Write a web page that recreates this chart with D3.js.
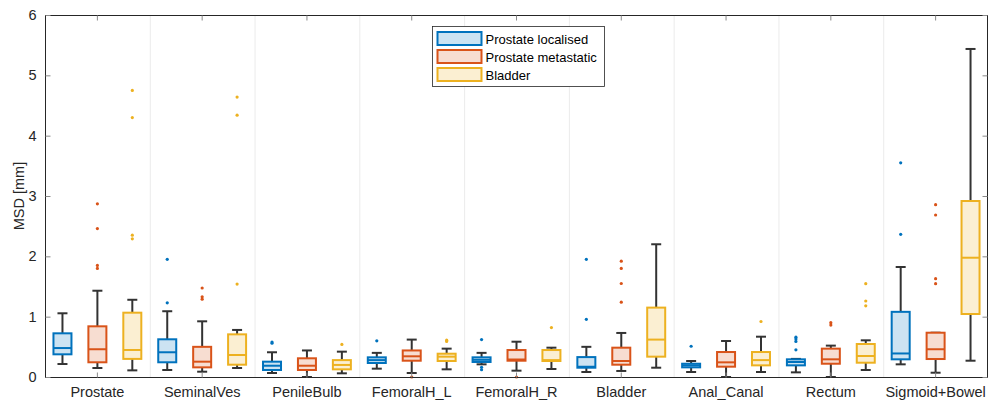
<!DOCTYPE html>
<html>
<head>
<meta charset="utf-8">
<script src="https://cdn.jsdelivr.net/npm/d3@7"></script>
<style>
  html, body { margin: 0; padding: 0; background: #fff; }
  svg { display: block; font-family: "Liberation Sans", Arial, Helvetica, sans-serif; }
</style>
</head>
<body>
<svg id="chart" width="988" height="401"></svg>
<script>
// Organs on the x axis
const categories = ["Prostate", "SeminalVes", "PenileBulb", "FemoralH_L", "FemoralH_R",
                    "Bladder", "Anal_Canal", "Rectum", "Sigmoid+Bowel"];
const seriesNames = ["Prostate localised", "Prostate metastatic", "Bladder"];
const yTicks = [0, 1, 2, 3, 4, 5, 6];

// Box statistics per organ: [lower whisker, Q1, median, Q3, upper whisker]
const localisedStats = [
  [0.215, 0.376, 0.48, 0.724, 1.056],
  [0.116, 0.244, 0.41, 0.625, 1.09],
  [0.066, 0.116, 0.187, 0.254, 0.41],
  [0.138, 0.232, 0.28, 0.326, 0.40],
  [0.21, 0.249, 0.285, 0.326, 0.40],
  [0.083, 0.154, 0.17, 0.33, 0.50],
  [0.083, 0.16, 0.193, 0.22, 0.265],
  [0.077, 0.193, 0.249, 0.293, 0.30],
  [0.21, 0.293, 0.39, 1.08, 1.823]
];
const metastaticStats = [
  [0.149, 0.244, 0.46, 0.84, 1.43],
  [0.088, 0.16, 0.254, 0.50, 0.923],
  [0.0, 0.116, 0.187, 0.31, 0.44],
  [0.066, 0.27, 0.343, 0.44, 0.62],
  [0.105, 0.27, 0.29, 0.447, 0.585],
  [0.10, 0.204, 0.265, 0.486, 0.73],
  [0.0, 0.171, 0.243, 0.414, 0.597],
  [0.0, 0.22, 0.293, 0.47, 0.52],
  [0.071, 0.298, 0.46, 0.734, 0.734]
];
const bladderStats = [
  [0.11, 0.30, 0.448, 1.066, 1.28],
  [0.149, 0.204, 0.365, 0.707, 0.78],
  [0.061, 0.127, 0.20, 0.28, 0.42],
  [0.127, 0.265, 0.337, 0.386, 0.47],
  [0.133, 0.265, 0.28, 0.447, 0.486],
  [0.154, 0.337, 0.62, 1.15, 2.20],
  [0.083, 0.193, 0.28, 0.414, 0.668],
  [0.116, 0.237, 0.348, 0.547, 0.608],
  [0.27, 1.044, 1.977, 2.917, 5.437]
];

// Outliers per organ
const localisedOutliers = [
  [], [1.95, 1.23], [0.58, 0.56], [0.60], [0.62, 0.16, 0.12],
  [1.95, 0.956], [0.51], [0.66, 0.63, 0.59, 0.45], [3.55, 2.365]
];
const metastaticOutliers = [
  [2.87, 2.46, 1.85, 1.80], [1.475, 1.33, 1.29], [], [0.0], [0.0],
  [1.92, 1.80, 1.55, 1.24], [], [0.90, 0.86], [2.856, 2.685, 1.63, 1.547]
];
const bladderOutliers = [
  [4.75, 4.30, 2.35, 2.29], [4.64, 4.34, 1.54], [0.54], [0.61, 0.59], [0.82],
  [], [0.92], [1.547, 1.26, 1.18], []
];

const strokeColors = ["#0072BD", "#D95319", "#EDB120"];
const fillColors = ["#cce3f2", "#f7ddd1", "#fbefd2"];

const statsBySeries = [localisedStats, metastaticStats, bladderStats];
const outliersBySeries = [localisedOutliers, metastaticOutliers, bladderOutliers];

const svg = d3.select("#chart");
const plotLeft = 45, plotRight = 988, plotTop = 15, plotBottom = 377;
const axisColor = "#262626";
const fontFamily = "'Liberation Sans', Arial, sans-serif";

const x = d3.scaleBand().domain(categories).range([plotLeft, plotRight]).padding(0);
const xs = d3.scaleBand().domain(seriesNames).range([0, x.bandwidth()]).padding(0);
const y = d3.scaleLinear().domain([0, 6]).range([plotBottom, plotTop]);

// Vertical separators between organ groups
svg.append("g").selectAll("line")
  .data(categories.slice(1))
  .join("line")
  .attr("x1", d => x(d) + 0.5).attr("x2", d => x(d) + 0.5)
  .attr("y1", plotTop).attr("y2", plotBottom)
  .attr("stroke", "#ebebeb").attr("stroke-width", 1);

// Boxes
const boxW = 18, capW = 10;
const gBoxes = svg.append("g");
seriesNames.forEach((s, si) => {
  const stats = statsBySeries[si];
  const outs = outliersBySeries[si];
  categories.forEach((c, ci) => {
    const [lo, q1, med, q3, hi] = stats[ci];
    const cx = x(c) + xs(s) + xs.bandwidth() / 2;
    const g = gBoxes.append("g");
    // whiskers
    g.append("line").attr("x1", cx).attr("x2", cx).attr("y1", y(q3)).attr("y2", y(hi))
      .attr("stroke", "#333").attr("stroke-width", 2);
    g.append("line").attr("x1", cx).attr("x2", cx).attr("y1", y(q1)).attr("y2", y(lo))
      .attr("stroke", "#333").attr("stroke-width", 2);
    g.append("line").attr("x1", cx - capW / 2).attr("x2", cx + capW / 2)
      .attr("y1", y(hi)).attr("y2", y(hi)).attr("stroke", "#333").attr("stroke-width", 2);
    g.append("line").attr("x1", cx - capW / 2).attr("x2", cx + capW / 2)
      .attr("y1", y(lo)).attr("y2", y(lo)).attr("stroke", "#333").attr("stroke-width", 2);
    // box
    g.append("rect")
      .attr("x", cx - boxW / 2).attr("width", boxW)
      .attr("y", y(q3)).attr("height", Math.max(0.5, y(q1) - y(q3)))
      .attr("fill", fillColors[si]).attr("stroke", strokeColors[si]).attr("stroke-width", 2);
    // median
    g.append("line").attr("x1", cx - boxW / 2).attr("x2", cx + boxW / 2)
      .attr("y1", y(med)).attr("y2", y(med))
      .attr("stroke", strokeColors[si]).attr("stroke-width", 2);
    // outliers
    g.selectAll("circle").data(outs[ci]).join("circle")
      .attr("cx", cx).attr("cy", d => y(d)).attr("r", 1.6)
      .attr("fill", strokeColors[si]);
  });
});

// Axes frame
const frame = svg.append("g").attr("stroke", axisColor).attr("stroke-width", 1).attr("fill", "none");
frame.append("line").attr("x1", plotLeft).attr("x2", plotRight).attr("y1", plotBottom + 0.5).attr("y2", plotBottom + 0.5);
frame.append("line").attr("x1", plotLeft).attr("x2", plotRight).attr("y1", plotTop + 0.5).attr("y2", plotTop + 0.5);
frame.append("line").attr("x1", plotLeft + 0.5).attr("x2", plotLeft + 0.5).attr("y1", plotTop).attr("y2", plotBottom + 1);
frame.append("line").attr("x1", plotRight - 0.5).attr("x2", plotRight - 0.5).attr("y1", plotTop).attr("y2", plotBottom + 1);

// Y axis (left, ticks inward)
const yAxis = svg.append("g").attr("transform", `translate(${plotLeft + 0.5},0)`)
  .call(d3.axisLeft(y).tickValues(yTicks).tickSize(-5).tickPadding(9).tickFormat(d3.format("d")));
yAxis.select(".domain").remove();
yAxis.selectAll("line").attr("stroke", "#8a8a8a");
yAxis.selectAll("text").attr("font-size", 14.5).attr("fill", axisColor)
  .attr("font-family", fontFamily);

// Right-side ticks
const yAxisR = svg.append("g").attr("transform", `translate(${plotRight - 0.5},0)`)
  .call(d3.axisRight(y).tickValues(yTicks).tickSize(-5).tickFormat(""));
yAxisR.select(".domain").remove();
yAxisR.selectAll("line").attr("stroke", "#8a8a8a");

// X axis (bottom, ticks inward)
const xAxis = svg.append("g").attr("transform", `translate(0,${plotBottom + 0.5})`)
  .call(d3.axisBottom(x).tickSize(-5).tickPadding(9));
xAxis.select(".domain").remove();
xAxis.selectAll("line").attr("stroke", "#8a8a8a");
xAxis.selectAll("text").attr("font-size", 14.5).attr("fill", axisColor)
  .attr("font-family", fontFamily);

// Top ticks
const xAxisT = svg.append("g").attr("transform", `translate(0,${plotTop + 0.5})`)
  .call(d3.axisTop(x).tickSize(-5).tickFormat(""));
xAxisT.select(".domain").remove();
xAxisT.selectAll("line").attr("stroke", "#8a8a8a");

// Y label
svg.append("text")
  .attr("transform", "translate(24,196) rotate(-90)")
  .attr("text-anchor", "middle")
  .attr("font-size", 14.5).attr("fill", axisColor)
  .attr("font-family", fontFamily)
  .text("MSD [mm]");

// Legend
const lg = svg.append("g").attr("transform", "translate(432.5,26.5)");
lg.append("rect").attr("width", 172).attr("height", 60)
  .attr("fill", "#fff").attr("stroke", axisColor).attr("stroke-width", 0.8);
seriesNames.forEach((s, i) => {
  const row = lg.append("g").attr("transform", `translate(0,${5.5 + i * 18})`);
  row.append("rect").attr("x", 5).attr("y", 0).attr("width", 44).attr("height", 13)
    .attr("fill", fillColors[i]).attr("stroke", strokeColors[i]).attr("stroke-width", 2);
  row.append("text").attr("x", 53).attr("y", 11.5)
    .attr("font-size", 13).attr("fill", "#000").attr("font-family", fontFamily).text(s);
});
</script>
</body>
</html>
